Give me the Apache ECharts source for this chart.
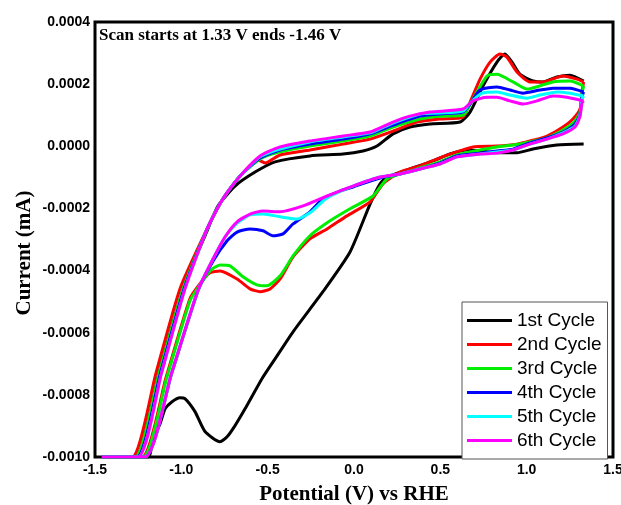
<!DOCTYPE html>
<html>
<head>
<meta charset="utf-8">
<title>CV cycles</title>
<script src="https://cdn.jsdelivr.net/npm/echarts@6/dist/echarts.min.js"></script>
<style>
  html, body { margin: 0; padding: 0; background: #fff; }
  #chart { width: 621px; height: 505px; }
</style>
</head>
<body>
<div id="chart"></div>
<script>
// potential (V) vs current (mA)
const cycleNames = ['1st Cycle', '2nd Cycle', '3rd Cycle', '4th Cycle', '5th Cycle', '6th Cycle'];
const cycleColors = ['#000000', '#ff0000', '#00ee00', '#0000ff', '#00ffff', '#ff00ff'];

const cycle1 = [
  [1.33, 0.000007], [1.175, 0.000004], [1.036, -0.000009], [0.944, -0.000021], [0.828, -0.000021],
  [0.770, -0.000018], [0.654, -0.000012], [0.556, -0.000025], [0.457, -0.000047], [0.324, -0.000073],
  [0.191, -0.000099], [0.151, -0.000121], [0.093, -0.000186], [-0.023, -0.00034], [-0.180, -0.000468],
  [-0.353, -0.000597], [-0.457, -0.000684], [-0.533, -0.000748], [-0.631, -0.000845], [-0.689, -0.000899],
  [-0.735, -0.000935], [-0.776, -0.000951], [-0.863, -0.000918], [-0.921, -0.000854], [-0.979, -0.000812],
  [-1.008, -0.000809], [-1.054, -0.000822], [-1.094, -0.000845], [-1.123, -0.000893], [-1.164, -0.000941],
  [-1.193, -0.0010], [-1.46, -0.0010], [-1.268, -0.0010], [-1.129, -0.000726], [-0.990, -0.000459],
  [-0.851, -0.000272], [-0.788, -0.000192], [-0.689, -0.000128], [-0.573, -0.000083],
  [-0.457, -0.000050], [-0.255, -0.000031], [-0.064, -0.000025], [0.052, -0.000015], [0.133, 0.000001],
  [0.226, 0.000040], [0.324, 0.000062], [0.440, 0.000072], [0.614, 0.000078], [0.672, 0.000110],
  [0.747, 0.000194], [0.828, 0.000271], [0.874, 0.000297], [0.915, 0.000271], [0.961, 0.000232],
  [1.036, 0.000210], [1.094, 0.000207], [1.175, 0.000223], [1.251, 0.000229], [1.33, 0.000210]
];

const cycle2 = [
  [1.33, 0.000207], [1.32, 0.000175], [1.309, 0.000120], [1.268, 0.000088], [1.210, 0.000062],
  [1.118, 0.000033], [1.019, 0.000017], [0.944, 0.000007], [0.828, 0.000001], [0.689, -0.000002],
  [0.556, -0.000025], [0.481, -0.000041], [0.382, -0.000063], [0.266, -0.000083], [0.168, -0.000121],
  [0.093, -0.000179], [-0.041, -0.000224], [-0.156, -0.000266], [-0.255, -0.000298], [-0.353, -0.000356],
  [-0.428, -0.000427], [-0.486, -0.000459], [-0.544, -0.000468], [-0.602, -0.000459], [-0.677, -0.000427],
  [-0.776, -0.000401], [-0.834, -0.000407], [-0.892, -0.000442], [-0.950, -0.000490], [-1.089, -0.000745],
  [-1.228, -0.0010], [-1.46, -0.0010], [-1.285, -0.0010], [-1.147, -0.00073], [-1.008, -0.000459],
  [-0.851, -0.000266], [-0.759, -0.000169], [-0.660, -0.000096], [-0.556, -0.000044], [-0.515, -0.000054],
  [-0.428, -0.000028], [-0.255, -0.000012], [-0.064, 0.000007], [0.093, 0.000023], [0.226, 0.000049],
  [0.365, 0.000078], [0.498, 0.000088], [0.631, 0.000094], [0.672, 0.000142], [0.730, 0.000216],
  [0.788, 0.000271], [0.845, 0.000297], [0.886, 0.000287], [0.944, 0.000239], [1.019, 0.000207],
  [1.094, 0.000207], [1.210, 0.000226], [1.291, 0.000216], [1.33, 0.000207]
];

const cycle3 = [
  [1.33, 0.000194], [1.32, 0.000168], [1.309, 0.000110], [1.274, 0.000078], [1.210, 0.000052],
  [1.118, 0.000027], [1.019, 0.000014], [0.921, 0.000004], [0.828, -0.000002], [0.730, -0.000012],
  [0.596, -0.000028], [0.498, -0.000050], [0.382, -0.000070], [0.307, -0.000083], [0.191, -0.000105],
  [0.110, -0.000160], [-0.023, -0.000201], [-0.139, -0.000240], [-0.255, -0.000288], [-0.353, -0.000353],
  [-0.428, -0.000417], [-0.504, -0.000449], [-0.562, -0.000446], [-0.643, -0.000420], [-0.718, -0.000385],
  [-0.776, -0.000382], [-0.834, -0.000401], [-0.892, -0.000446], [-0.950, -0.000497], [-1.086, -0.000748],
  [-1.222, -0.0010], [-1.46, -0.0010], [-1.268, -0.0010], [-1.129, -0.00073], [-0.990, -0.000459],
  [-0.851, -0.000266], [-0.759, -0.000169], [-0.660, -0.000096], [-0.544, -0.000041], [-0.428, -0.000018],
  [-0.255, 0.000001], [-0.064, 0.000017], [0.093, 0.000033], [0.226, 0.000062], [0.382, 0.000088],
  [0.498, 0.000097], [0.631, 0.000100], [0.689, 0.000152], [0.770, 0.000226], [0.828, 0.000232],
  [0.921, 0.000207], [1.002, 0.000184], [1.152, 0.000207], [1.251, 0.000210], [1.33, 0.000194]
];

const cycle4 = [
  [1.33, 0.000175], [1.32, 0.000158], [1.309, 0.000104], [1.280, 0.000072], [1.210, 0.000046],
  [1.118, 0.000027], [1.019, 0.000011], [0.921, -0.000009], [0.828, -0.000015], [0.730, -0.000022],
  [0.596, -0.000031], [0.498, -0.000054], [0.382, -0.000073], [0.266, -0.000089], [0.151, -0.000102],
  [-0.006, -0.000131], [-0.081, -0.000144], [-0.180, -0.000169], [-0.255, -0.000211], [-0.353, -0.000250],
  [-0.411, -0.000282], [-0.469, -0.000288], [-0.527, -0.000272], [-0.602, -0.000266], [-0.677, -0.000276],
  [-0.735, -0.000304], [-0.816, -0.000369], [-0.903, -0.000465], [-1.057, -0.000733], [-1.210, -0.0010],
  [-1.46, -0.0010], [-1.257, -0.0010], [-1.121, -0.00073], [-0.984, -0.000459], [-0.851, -0.000266],
  [-0.759, -0.000169], [-0.660, -0.000096], [-0.544, -0.000038], [-0.428, -0.000012], [-0.255, 0.000007],
  [-0.064, 0.000023], [0.093, 0.000040], [0.226, 0.000068], [0.382, 0.000097], [0.498, 0.000104],
  [0.631, 0.000110], [0.672, 0.000136], [0.730, 0.000181], [0.828, 0.000191], [0.903, 0.000181],
  [0.979, 0.000171], [1.077, 0.000181], [1.152, 0.000187], [1.251, 0.000187], [1.33, 0.000175]
];

const cycle5 = [
  [1.33, 0.000162], [1.32, 0.000152], [1.309, 0.000101], [1.280, 0.000065], [1.210, 0.000043],
  [1.118, 0.000023], [1.019, 0.000007], [0.921, -0.000012], [0.828, -0.000018], [0.730, -0.000025],
  [0.596, -0.000034], [0.498, -0.000057], [0.382, -0.000073], [0.266, -0.000089], [0.151, -0.000099],
  [-0.006, -0.000128], [-0.156, -0.000166], [-0.255, -0.000214], [-0.330, -0.000234], [-0.428, -0.000227],
  [-0.527, -0.000218], [-0.602, -0.000221], [-0.677, -0.000247], [-0.747, -0.000292], [-0.816, -0.000362],
  [-0.903, -0.000462], [-1.057, -0.000731], [-1.210, -0.0010], [-1.46, -0.0010], [-1.251, -0.0010],
  [-1.115, -0.00073], [-0.979, -0.000459], [-0.851, -0.000266], [-0.759, -0.000169], [-0.660, -0.000096],
  [-0.544, -0.000034], [-0.428, -0.000009], [-0.255, 0.000014], [-0.064, 0.000030], [0.093, 0.000043],
  [0.226, 0.000075], [0.382, 0.000104], [0.498, 0.000107], [0.631, 0.000113], [0.672, 0.000139],
  [0.741, 0.000171], [0.828, 0.000175], [0.903, 0.000165], [1.002, 0.000155], [1.077, 0.000165],
  [1.175, 0.000175], [1.251, 0.000171], [1.33, 0.000162]
];

const cycle6 = [
  [1.33, 0.000146], [1.32, 0.000139], [1.309, 0.000097], [1.280, 0.000062], [1.210, 0.000040],
  [1.118, 0.000023], [1.019, 0.000007], [0.921, -0.000012], [0.828, -0.000022], [0.730, -0.000025],
  [0.596, -0.000034], [0.498, -0.000057], [0.382, -0.000073], [0.266, -0.000089], [0.151, -0.000099],
  [-0.006, -0.000128], [-0.156, -0.000160], [-0.295, -0.000192], [-0.428, -0.000211], [-0.527, -0.000208],
  [-0.602, -0.000218], [-0.677, -0.000243], [-0.747, -0.000292], [-0.816, -0.000362], [-0.903, -0.000462],
  [-1.057, -0.000731], [-1.210, -0.0010], [-1.46, -0.0010], [-1.251, -0.0010], [-1.115, -0.00073],
  [-0.979, -0.000459], [-0.851, -0.000266], [-0.759, -0.000169], [-0.660, -0.000096], [-0.544, -0.000031],
  [-0.428, -0.000002], [-0.255, 0.000017], [-0.064, 0.000033], [0.093, 0.000046], [0.226, 0.000078],
  [0.324, 0.000097], [0.440, 0.000110], [0.631, 0.000120], [0.689, 0.000146], [0.770, 0.000158],
  [0.828, 0.000158], [0.903, 0.000146], [0.979, 0.000136], [1.060, 0.000146], [1.152, 0.000162],
  [1.233, 0.000158], [1.33, 0.000146]
];

const cycles = [cycle1, cycle2, cycle3, cycle4, cycle5, cycle6];
const scanNote = 'Scan starts at 1.33 V ends -1.46 V';
const yTitle = 'Current (mA)';

const chart = echarts.init(document.getElementById('chart'));

const axisLabelStyle = {
  color: '#000',
  fontFamily: '"Liberation Sans", Arial, sans-serif',
  fontWeight: 'bold',
  fontSize: 14,
};
const serifBold = '"Liberation Serif", "Times New Roman", serif';

const option = {
  animation: false,
  backgroundColor: '#fff',
  grid: {
    left: 95,
    right: 8,
    top: 22,
    bottom: 48,
    outerBoundsMode: 'none',
    show: true,
    borderColor: '#000',
    borderWidth: 3,
  },
  xAxis: {
    type: 'value',
    min: -1.5,
    max: 1.5,
    interval: 0.5,
    name: 'Potential (V) vs RHE',
    nameLocation: 'middle',
    nameGap: 27,
    nameTextStyle: { color: '#000', fontFamily: serifBold, fontWeight: 'bold', fontSize: 21 },
    axisLine: { show: false },
    axisTick: { show: false },
    splitLine: { show: false },
    axisLabel: {
      ...axisLabelStyle,
      margin: 6,
      formatter: v => v.toFixed(1),
    },
  },
  yAxis: {
    type: 'value',
    min: -0.001,
    max: 0.0004,
    interval: 0.0002,
    axisLine: { show: false },
    axisTick: { show: false },
    splitLine: { show: false },
    axisLabel: {
      ...axisLabelStyle,
      margin: 5,
      formatter: v => v.toFixed(4),
    },
  },
  legend: {
    orient: 'vertical',
    left: 462,
    top: 302,
    padding: [9, 6, 9, 5],
    itemGap: 5,
    itemWidth: 45,
    itemHeight: 3,
    icon: 'rect',
    backgroundColor: '#fff',
    borderColor: '#555',
    borderWidth: 1,
    textStyle: {
      color: '#000',
      fontFamily: '"Liberation Sans", Arial, sans-serif',
      fontSize: 19,
      lineHeight: 19,
    },
    data: cycleNames,
  },
  graphic: [
    {
      type: 'text',
      left: 99,
      top: 27,
      z: 10,
      style: {
        text: scanNote,
        fill: '#000',
        font: 'bold 17px ' + serifBold,
      },
    },
    {
      type: 'text',
      x: 25,
      y: 253,
      rotation: Math.PI / 2,
      z: 10,
      style: {
        text: yTitle,
        fill: '#000',
        font: 'bold 21px ' + serifBold,
        align: 'center',
        verticalAlign: 'middle',
      },
    },
  ],
  series: cycles.map((d, i) => ({
    name: cycleNames[i],
    type: 'line',
    data: d,
    smooth: 0.2,
    showSymbol: false,
    clip: true,
    color: cycleColors[i],
    lineStyle: { color: cycleColors[i], width: 3 },
  })),
};

chart.setOption(option);
</script>
</body>
</html>
